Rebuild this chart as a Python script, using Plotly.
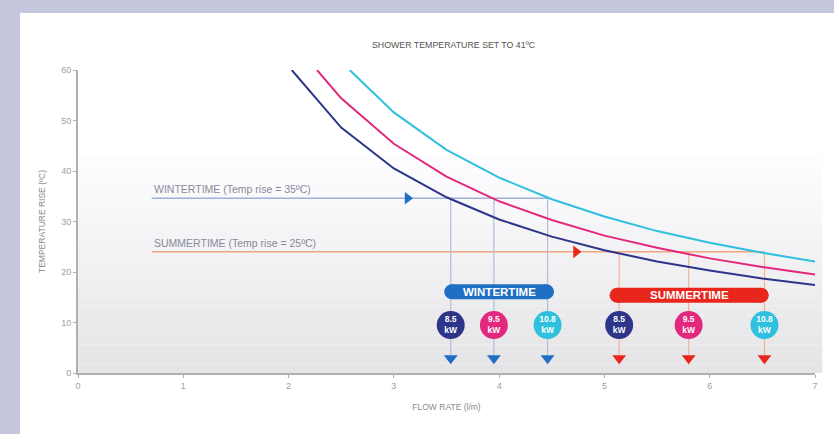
import plotly.graph_objects as go

# ---- data ----
flow_85 = [2.03, 2.5, 3.0, 3.5, 4.0, 4.5, 5.0, 5.5, 6.0, 6.5, 7.0]
rise_85 = [60, 48.6, 40.5, 34.8, 30.4, 27.0, 24.3, 22.1, 20.3, 18.7, 17.4]
flow_95 = [2.27, 2.5, 3.0, 3.5, 4.0, 4.5, 5.0, 5.5, 6.0, 6.5, 7.0]
rise_95 = [60, 54.4, 45.4, 38.9, 34.0, 30.3, 27.2, 24.8, 22.7, 21.0, 19.5]
flow_108 = [2.58, 3.0, 3.5, 4.0, 4.5, 5.0, 5.5, 6.0, 6.5, 7.0]
rise_108 = [60, 51.6, 44.2, 38.7, 34.4, 31.0, 28.1, 25.8, 23.8, 22.1]

winter_level = 34.6
summer_level = 24.0
winter_flows = [3.54, 3.95, 4.46]
summer_flows = [5.14, 5.80, 6.52]
power_labels = ["8.5<br>kW", "9.5<br>kW", "10.8<br>kW"]

x_ticks = [0, 1, 2, 3, 4, 5, 6, 7]
y_ticks = [0, 10, 20, 30, 40, 50, 60]

# ---- styles ----
NAVY = "#2c3587"
MAGENTA = "#e2287d"
CYAN = "#2fc0dd"
WBLUE = "#1f6fc4"
SRED = "#e8261c"
WLINE = "#9fb0da"
SLINE = "#f2a67f"
LAV = "#c4c6de"
FONT = "Liberation Sans"

W, H = 834, 434
ML, MR, MT, MB = 78, 19, 70, 61
PW, PH = W - ML - MR, H - MT - MB

circle_colors = [NAVY, MAGENTA, CYAN]

fig = go.Figure()

# horizontal reference lines
line_start = 0.7
fig.add_trace(go.Scatter(x=[line_start, winter_flows[-1]], y=[winter_level, winter_level],
                         mode="lines", line=dict(color=WLINE, width=1.6), hoverinfo="skip"))
fig.add_trace(go.Scatter(x=[line_start, summer_flows[-1]], y=[summer_level, summer_level],
                         mode="lines", line=dict(color=SLINE, width=1.4), hoverinfo="skip"))

# vertical drop lines
drop_bottom = 3.5
for fx in winter_flows:
    fig.add_trace(go.Scatter(x=[fx, fx], y=[winter_level, drop_bottom], mode="lines",
                             line=dict(color="#b3bdd8", width=1.2), hoverinfo="skip"))
for fx in summer_flows:
    fig.add_trace(go.Scatter(x=[fx, fx], y=[summer_level, drop_bottom], mode="lines",
                             line=dict(color="#f0b595", width=1.2), hoverinfo="skip"))

# curves
for fx, fy, col in [(flow_85, rise_85, NAVY), (flow_95, rise_95, MAGENTA), (flow_108, rise_108, CYAN)]:
    fig.add_trace(go.Scatter(x=fx, y=fy, mode="lines", line=dict(color=col, width=2),
                             hoverinfo="skip"))

# arrows on horizontal lines
fig.add_trace(go.Scatter(x=[3.13], y=[winter_level], mode="markers",
                         marker=dict(symbol="triangle-right", size=11, color=WBLUE), hoverinfo="skip"))
fig.add_trace(go.Scatter(x=[4.73], y=[summer_level], mode="markers",
                         marker=dict(symbol="triangle-right", size=11, color=SRED), hoverinfo="skip"))

# badges (rounded bars)
for x0, x1, yb, col, txt in [(3.55, 4.45, 16.1, WBLUE, "WINTERTIME"),
                             (5.12, 6.49, 15.4, SRED, "SUMMERTIME")]:
    fig.add_trace(go.Scatter(x=[x0, x1], y=[yb, yb], mode="lines+markers",
                             line=dict(color=col, width=15),
                             marker=dict(color=col, size=15, symbol="circle", line=dict(width=0)),
                             hoverinfo="skip"))
    fig.add_annotation(x=(x0 + x1) / 2, y=yb, text="<b>" + txt + "</b>", showarrow=False,
                       font=dict(family=FONT, size=11.5, color="white"))

# power circles
for flows in (winter_flows, summer_flows):
    fig.add_trace(go.Scatter(x=flows, y=[9.5] * 3, mode="markers+text",
                             marker=dict(size=28, color=circle_colors, line=dict(width=0)),
                             text=["<b>" + t + "</b>" for t in power_labels],
                             textposition="middle center",
                             textfont=dict(family=FONT, size=8.5, color="white"),
                             hoverinfo="skip"))

# down arrows
fig.add_trace(go.Scatter(x=winter_flows, y=[2.9] * 3, mode="markers",
                         marker=dict(symbol="triangle-down", size=12, color=WBLUE), hoverinfo="skip"))
fig.add_trace(go.Scatter(x=summer_flows, y=[2.9] * 3, mode="markers",
                         marker=dict(symbol="triangle-down", size=12, color=SRED), hoverinfo="skip"))

# background gradient inside plot area
shapes = []
n = 24
for i in range(n):
    t0 = i / n * 0.75
    t1 = (i + 1) / n * 0.75
    f = i / (n - 1)
    c = int(229 + (255 - 229) * f)
    shapes.append(dict(type="rect", xref="x domain", yref="y domain", x0=0, x1=1.01, y0=t0, y1=t1,
                       fillcolor=f"rgb({c},{c},{min(255, c + 2)})", line=dict(width=0), layer="below"))
# lavender frame: top strip and left strip
shapes.append(dict(type="rect", xref="paper", yref="paper", x0=-ML / PW, x1=(W - ML) / PW,
                   y0=(H - MB - 13) / PH, y1=H / PH, fillcolor=LAV, line=dict(width=0), layer="below"))
shapes.append(dict(type="rect", xref="paper", yref="paper", x0=-ML / PW, x1=(20 - ML) / PW,
                   y0=-MB / PH, y1=H / PH, fillcolor=LAV, line=dict(width=0), layer="below"))
fig.update_layout(shapes=shapes)

fig.update_layout(
    width=W, height=H,
    margin=dict(l=ML, r=MR, t=MT, b=MB),
    paper_bgcolor="white", plot_bgcolor="rgba(0,0,0,0)",
    showlegend=False,
    font=dict(family=FONT, color="#8a8a8a", size=8),
    xaxis=dict(range=[0, 7], tickvals=x_ticks, ticktext=[str(v) for v in x_ticks],
               showgrid=False, zeroline=False, showline=True, linecolor="#b0b0b0", linewidth=2,
               ticks="outside", ticklen=3, tickcolor="#b0b0b0",
               tickfont=dict(size=9, color="#a0a0a0"),
               title=dict(text="FLOW RATE (l/m)", font=dict(size=8.5, color="#8a8a8a"), standoff=14)),
    yaxis=dict(range=[0, 60], tickvals=y_ticks, showgrid=False, zeroline=False, showline=True,
               linecolor="#b0b0b0", linewidth=2, ticks="outside", ticklen=3, tickcolor="#b0b0b0",
               tickfont=dict(size=9, color="#a0a0a0"),
               title=dict(text="TEMPERATURE RISE (ºC)", font=dict(size=8.5, color="#8a8a8a"), standoff=14)),
)

fig.add_annotation(xref="paper", yref="paper", x=0.51, y=1.0, yanchor="middle", yshift=25,
                   text="SHOWER TEMPERATURE SET TO 41ºC",
                   showarrow=False, font=dict(size=8.8, color="#555555"))
fig.add_annotation(x=line_start, y=winter_level, xanchor="left", yanchor="bottom", yshift=1,
                   text="WINTERTIME (Temp rise = 35ºC)", showarrow=False, font=dict(size=10.5, color="#8a8a9a"))
fig.add_annotation(x=line_start, y=summer_level, xanchor="left", yanchor="bottom", yshift=1,
                   text="SUMMERTIME (Temp rise = 25ºC)", showarrow=False, font=dict(size=10.5, color="#8a8a9a"))

fig.write_html("out.html", config={"displayModeBar": False},
               post_script="document.body.style.margin='0';document.body.style.overflow='hidden';")
